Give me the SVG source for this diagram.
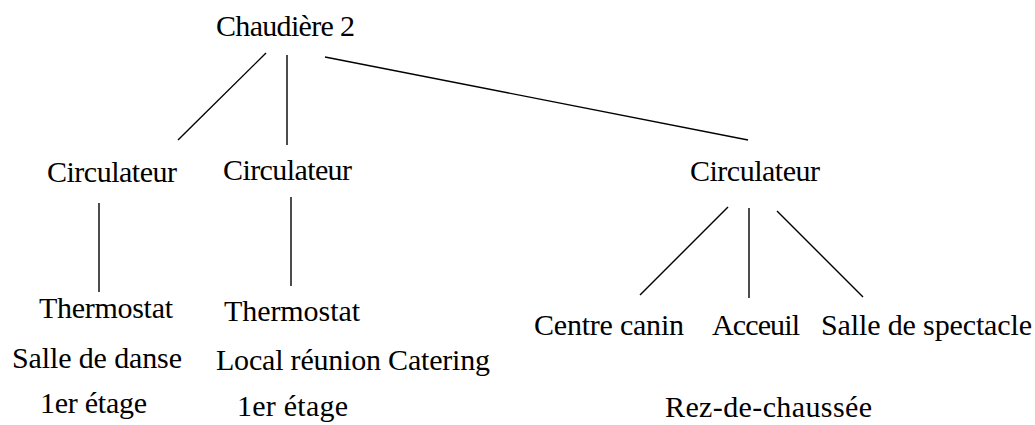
<svg xmlns="http://www.w3.org/2000/svg" width="1035" height="425" viewBox="0 0 1035 425">
<style>
text{font-family:"Liberation Serif","Times New Roman",serif;font-size:30px;fill:#000}
.c line{stroke:#000;stroke-width:1.4}
</style>
<rect width="1035" height="425" fill="#fff"/>
<g class="c" id="connectors">
<line x1="266" y1="53" x2="178" y2="140"/>
<line x1="287" y1="55" x2="287" y2="145"/>
<line x1="325" y1="57" x2="748" y2="140"/>
<line x1="99" y1="203" x2="99" y2="292"/>
<line x1="291" y1="197" x2="291" y2="286"/>
<line x1="728" y1="207" x2="640" y2="295"/>
<line x1="749" y1="208" x2="749" y2="298"/>
<line x1="777" y1="211" x2="863" y2="297"/>
</g>
<g id="chaudiere"><text x="216" y="36" textLength="139" lengthAdjust="spacing">Chaudière 2</text></g>
<g id="circ1"><text x="47" y="182" textLength="130" lengthAdjust="spacing">Circulateur</text></g>
<g id="circ2"><text x="223" y="180" textLength="129" lengthAdjust="spacing">Circulateur</text></g>
<g id="circ3"><text x="690" y="181" textLength="130" lengthAdjust="spacing">Circulateur</text></g>
<g id="thermo1">
<text x="39" y="318" textLength="134" lengthAdjust="spacing">Thermostat</text>
<text x="12" y="368" textLength="170" lengthAdjust="spacing">Salle de danse</text>
<text x="40" y="413" textLength="107" lengthAdjust="spacing">1er étage</text>
</g>
<g id="thermo2">
<text x="224" y="321" textLength="136" lengthAdjust="spacing">Thermostat</text>
<text x="216" y="370" textLength="274" lengthAdjust="spacing">Local réunion Catering</text>
<text x="237" y="416" textLength="111" lengthAdjust="spacing">1er étage</text>
</g>
<g id="centre"><text x="534" y="335" textLength="150" lengthAdjust="spacing">Centre canin</text></g>
<g id="acceuil"><text x="712" y="335" textLength="88" lengthAdjust="spacing">Acceuil</text></g>
<g id="spectacle"><text x="821" y="335" textLength="211" lengthAdjust="spacing">Salle de spectacle</text></g>
<g id="rdc"><text x="665" y="417" textLength="207" lengthAdjust="spacing">Rez-de-chaussée</text></g>
</svg>
